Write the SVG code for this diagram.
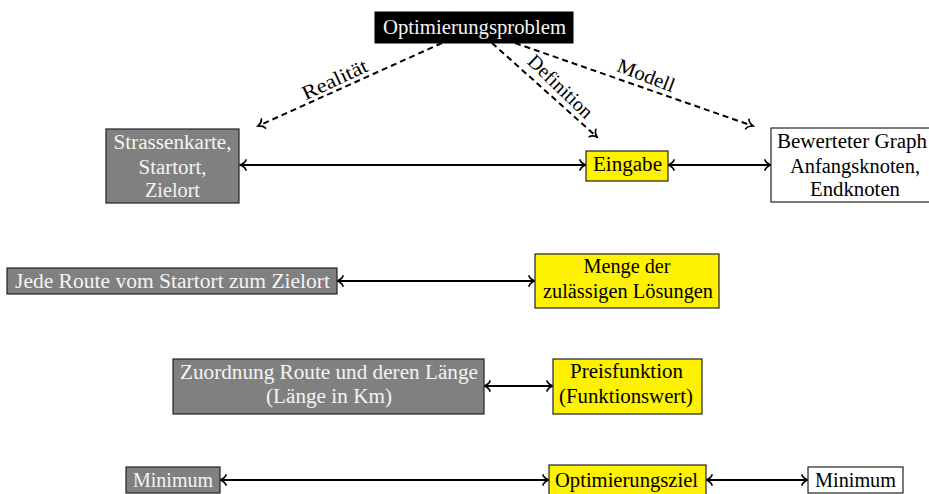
<svg xmlns="http://www.w3.org/2000/svg" width="929" height="494" viewBox="0 0 929 494" font-family="'Liberation Serif', 'Times New Roman', serif">
<style>
text{font-family:"Liberation Serif","Times New Roman",serif;font-size:20px;text-anchor:middle}
.g rect{fill:#808080;stroke:#222;stroke-width:1.2}
.g text{fill:#f4f4f4}
.y rect{fill:#fff200;stroke:#222;stroke-width:1.2}
.y text{fill:#000}
.w rect{fill:#fff;stroke:#222;stroke-width:1.2}
.w text{fill:#000}
.b rect{fill:#000;stroke:#000}
.b text{fill:#f4f4f4}
.c line{stroke:#000;stroke-width:2;fill:none}
.c .d{stroke-dasharray:6 4}
.lbl{fill:#000}
</style>
<defs>
<marker id="ah" viewBox="-9 -7 11 14" refX="0" refY="0" markerWidth="11" markerHeight="14" markerUnits="userSpaceOnUse" orient="auto-start-reverse">
<path d="M-6,-5 C-5,-2.2 -2,-0.7 0,0 C-2,0.7 -5,2.2 -6,5" fill="none" stroke="#000" stroke-width="1.7" stroke-linecap="round"/>
</marker>
</defs>
<g id="connectors" class="c">
<line class="d" x1="442" y1="43" x2="258" y2="126" marker-end="url(#ah)"/>
<line class="d" x1="492" y1="43" x2="597" y2="137" marker-end="url(#ah)"/>
<line class="d" x1="515" y1="43" x2="753" y2="126" marker-end="url(#ah)"/>
<line x1="240" y1="165" x2="586" y2="165" marker-start="url(#ah)" marker-end="url(#ah)"/>
<line x1="668" y1="165" x2="771" y2="165" marker-start="url(#ah)" marker-end="url(#ah)"/>
<line x1="337" y1="281" x2="535" y2="281" marker-start="url(#ah)" marker-end="url(#ah)"/>
<line x1="484" y1="386" x2="553" y2="386" marker-start="url(#ah)" marker-end="url(#ah)"/>
<line x1="220" y1="480" x2="549" y2="480" marker-start="url(#ah)" marker-end="url(#ah)"/>
<line x1="706" y1="480" x2="808" y2="480" marker-start="url(#ah)" marker-end="url(#ah)"/>
<text class="lbl" transform="translate(335,80) rotate(-25)" y="6" textLength="70" lengthAdjust="spacingAndGlyphs">Realität</text>
<text class="lbl" transform="translate(560,87) rotate(44)" y="6" textLength="82" lengthAdjust="spacingAndGlyphs">Definition</text>
<text class="lbl" transform="translate(646,76) rotate(21)" y="6" textLength="60" lengthAdjust="spacingAndGlyphs">Modell</text>
</g>
<g id="optimierungsproblem" class="b">
<rect x="375" y="12" width="198" height="31"/>
<text x="474.5" y="34" textLength="183" lengthAdjust="spacingAndGlyphs">Optimierungsproblem</text>
</g>
<g id="strassenkarte" class="g">
<rect x="106" y="129" width="133" height="74"/>
<text x="172.5" y="149" textLength="118" lengthAdjust="spacingAndGlyphs">Strassenkarte,</text>
<text x="172.5" y="174" textLength="68" lengthAdjust="spacingAndGlyphs">Startort,</text>
<text x="172.5" y="197" textLength="55" lengthAdjust="spacingAndGlyphs">Zielort</text>
</g>
<g id="eingabe" class="y">
<rect x="586" y="151" width="82" height="30"/>
<text x="627.5" y="171" textLength="69" lengthAdjust="spacingAndGlyphs">Eingabe</text>
</g>
<g id="bewerteter-graph" class="w">
<rect x="771" y="128" width="170" height="74"/>
<text x="852" y="148" textLength="150" lengthAdjust="spacingAndGlyphs">Bewerteter Graph</text>
<text x="855" y="173" textLength="130" lengthAdjust="spacingAndGlyphs">Anfangsknoten,</text>
<text x="855" y="196" textLength="90" lengthAdjust="spacingAndGlyphs">Endknoten</text>
</g>
<g id="jede-route" class="g">
<rect x="7" y="268" width="330" height="26"/>
<text x="172.5" y="288" textLength="315" lengthAdjust="spacingAndGlyphs">Jede Route vom Startort zum Zielort</text>
</g>
<g id="menge" class="y">
<rect x="535" y="254" width="184" height="54"/>
<text x="627" y="273" textLength="87" lengthAdjust="spacingAndGlyphs">Menge der</text>
<text x="628" y="298" textLength="170" lengthAdjust="spacingAndGlyphs">zulässigen Lösungen</text>
</g>
<g id="zuordnung" class="g">
<rect x="173" y="359" width="311" height="55"/>
<text x="329" y="379" textLength="298" lengthAdjust="spacingAndGlyphs">Zuordnung Route und deren Länge</text>
<text x="329" y="403" textLength="126" lengthAdjust="spacingAndGlyphs">(Länge in Km)</text>
</g>
<g id="preisfunktion" class="y">
<rect x="553" y="359" width="149" height="55"/>
<text x="626.5" y="378" textLength="113" lengthAdjust="spacingAndGlyphs">Preisfunktion</text>
<text x="626" y="403" textLength="134" lengthAdjust="spacingAndGlyphs">(Funktionswert)</text>
</g>
<g id="minimum-links" class="g">
<rect x="126" y="467" width="94" height="26"/>
<text x="173" y="487" textLength="80" lengthAdjust="spacingAndGlyphs">Minimum</text>
</g>
<g id="optimierungsziel" class="y">
<rect x="549" y="465" width="157" height="33"/>
<text x="626.5" y="487" textLength="143" lengthAdjust="spacingAndGlyphs">Optimierungsziel</text>
</g>
<g id="minimum-rechts" class="w">
<rect x="808" y="467" width="95" height="26"/>
<text x="855.5" y="487" textLength="81" lengthAdjust="spacingAndGlyphs">Minimum</text>
</g>
</svg>
